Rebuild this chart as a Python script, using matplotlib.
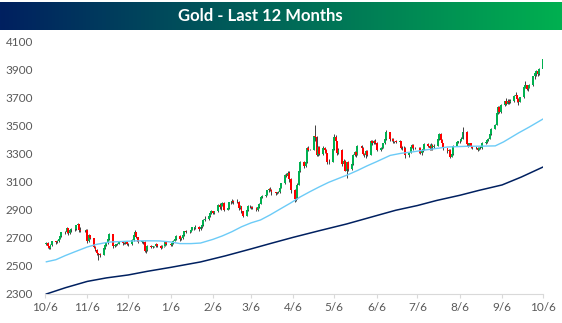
import numpy as np
import pandas as pd
import matplotlib
matplotlib.use("Agg")
import matplotlib.pyplot as plt
import matplotlib.dates as mdates
from matplotlib.colors import LinearSegmentedColormap

plt.rcParams["font.family"] = ["Lato", "DejaVu Sans"]

# daily bars, one row per week (Mon..Fri), 10/7/2024 .. 10/6/2025
first_open = 2660
closes = [
    2665, 2642, 2628, 2650, 2676,
    2668, 2680, 2694, 2712, 2742,
    2742, 2770, 2735, 2755, 2765,
    2762, 2792, 2800, 2760, 2750,
    2750, 2760, 2676, 2720, 2700,
    2636, 2615, 2590, 2583, 2578,
    2628, 2650, 2668, 2690, 2730,
    2645, 2650, 2655, 2660, 2670,
    2662, 2665, 2672, 2655, 2656,
    2685, 2718, 2743, 2705, 2672,
    2675, 2670, 2610, 2612, 2645,
    2635, 2640, 2640, 2658, 2645,
    2630, 2642, 2642, 2670, 2655,
    2650, 2665, 2680, 2690, 2715,
    2690, 2700, 2718, 2748, 2740,
    2745, 2760, 2775, 2770, 2780,
    2765, 2780, 2790, 2830, 2835,
    2855, 2875, 2892, 2880, 2890,
    2935, 2922, 2930, 2950, 2900,
    2915, 2955, 2955, 2965, 2955,
    2960, 2915, 2930, 2890, 2860,
    2900, 2930, 2925, 2920, 2915,
    2900, 2920, 2945, 2995, 3000,
    3010, 3040, 3050, 3045, 3025,
    3020, 3025, 3025, 3060, 3090,
    3150, 3145, 3165, 3120, 3040,
    2975, 2990, 3080, 3175, 3245,
    3215, 3240, 3345, 3330, 3330,
    3425, 3420, 3295, 3350, 3300,
    3345, 3330, 3305, 3240, 3245,
    3335, 3420, 3390, 3305, 3330,
    3230, 3250, 3180, 3240, 3190,
    3230, 3290, 3315, 3295, 3360,
    3345, 3300, 3290, 3320, 3295,
    3395, 3375, 3395, 3380, 3330,
    3345, 3345, 3375, 3405, 3455,
    3405, 3410, 3390, 3390, 3385,
    3390, 3345, 3345, 3345, 3290,
    3310, 3350, 3365, 3340, 3345,
    3345, 3305, 3325, 3335, 3370,
    3360, 3340, 3365, 3350, 3360,
    3410, 3445, 3400, 3375, 3340,
    3320, 3330, 3280, 3300, 3360,
    3385, 3390, 3395, 3410, 3460,
    3370, 3365, 3375, 3350, 3345,
    3345, 3330, 3345, 3340, 3380,
    3385, 3400, 3410, 3440, 3480,
    3510, 3590, 3635, 3600, 3650,
    3675, 3660, 3680, 3670, 3680,
    3715, 3720, 3690, 3675, 3705,
    3775, 3790, 3765, 3775, 3790,
    3855, 3875, 3890, 3870, 3910,
    3975,
]
highs = [
    2672, 2668, 2646, 2655, 2680,
    2682, 2686, 2698, 2716, 2745,
    2750, 2775, 2772, 2760, 2770,
    2770, 2795, 2810, 2802, 2775,
    2758, 2765, 2762, 2725, 2722,
    2702, 2640, 2620, 2595, 2590,
    2632, 2655, 2672, 2695, 2735,
    2732, 2655, 2660, 2665, 2680,
    2672, 2670, 2678, 2675, 2665,
    2690, 2722, 2755, 2745, 2708,
    2680, 2678, 2675, 2625, 2650,
    2648, 2645, 2644, 2662, 2660,
    2650, 2648, 2646, 2675, 2672,
    2662, 2672, 2685, 2695, 2720,
    2718, 2705, 2722, 2752, 2755,
    2750, 2765, 2780, 2780, 2790,
    2785, 2785, 2795, 2835, 2860,
    2865, 2880, 2900, 2895, 2895,
    2940, 2950, 2935, 2955, 2955,
    2920, 2960, 2965, 2975, 2970,
    2975, 2962, 2935, 2932, 2895,
    2905, 2935, 2935, 2930, 2930,
    2920, 2925, 2950, 3000, 3010,
    3015, 3045, 3060, 3065, 3050,
    3030, 3030, 3035, 3065, 3095,
    3155, 3165, 3175, 3180, 3125,
    3050, 3010, 3090, 3180, 3250,
    3250, 3245, 3350, 3360, 3335,
    3430, 3505, 3425, 3360, 3360,
    3355, 3350, 3335, 3310, 3265,
    3340, 3440, 3435, 3395, 3345,
    3335, 3265, 3255, 3245, 3250,
    3245, 3300, 3320, 3330, 3365,
    3365, 3350, 3310, 3325, 3325,
    3400, 3400, 3400, 3405, 3385,
    3350, 3355, 3380, 3410, 3470,
    3460, 3415, 3415, 3395, 3400,
    3400, 3395, 3355, 3360, 3348,
    3315, 3355, 3370, 3370, 3350,
    3350, 3350, 3330, 3340, 3375,
    3380, 3370, 3375, 3370, 3370,
    3415, 3450, 3450, 3405, 3380,
    3345, 3335, 3335, 3310, 3365,
    3390, 3395, 3400, 3420, 3495,
    3462, 3375, 3380, 3378, 3360,
    3355, 3350, 3352, 3355, 3385,
    3395, 3405, 3415, 3445, 3485,
    3515, 3600, 3645, 3640, 3660,
    3680, 3700, 3690, 3690, 3690,
    3720, 3740, 3725, 3700, 3710,
    3780, 3825, 3795, 3780, 3800,
    3860, 3880, 3900, 3900, 3915,
    3985,
]
lows = [
    2648, 2632, 2620, 2622, 2645,
    2660, 2662, 2674, 2690, 2708,
    2730, 2735, 2722, 2730, 2745,
    2750, 2758, 2785, 2745, 2740,
    2740, 2745, 2665, 2670, 2690,
    2630, 2605, 2580, 2545, 2565,
    2575, 2620, 2645, 2660, 2685,
    2630, 2635, 2645, 2650, 2655,
    2650, 2655, 2658, 2648, 2640,
    2652, 2680, 2712, 2700, 2665,
    2662, 2660, 2600, 2590, 2605,
    2628, 2630, 2636, 2635, 2638,
    2622, 2625, 2638, 2640, 2648,
    2640, 2645, 2660, 2675, 2685,
    2680, 2685, 2695, 2712, 2735,
    2735, 2740, 2755, 2760, 2765,
    2750, 2760, 2772, 2785, 2820,
    2825, 2850, 2870, 2870, 2872,
    2885, 2910, 2900, 2925, 2895,
    2898, 2910, 2945, 2950, 2940,
    2950, 2900, 2905, 2880, 2850,
    2855, 2890, 2915, 2905, 2905,
    2890, 2895, 2915, 2940, 2985,
    2995, 3005, 3030, 3035, 3010,
    3010, 3012, 3018, 3020, 3055,
    3085, 3135, 3140, 3100, 3020,
    2960, 2965, 2975, 3075, 3170,
    3200, 3210, 3235, 3320, 3325,
    3325, 3390, 3285, 3285, 3290,
    3290, 3310, 3295, 3230, 3225,
    3240, 3330, 3370, 3290, 3300,
    3215, 3220, 3175, 3125, 3180,
    3185, 3220, 3285, 3280, 3290,
    3335, 3290, 3280, 3270, 3285,
    3290, 3365, 3370, 3370, 3320,
    3320, 3335, 3340, 3370, 3400,
    3395, 3395, 3380, 3380, 3375,
    3350, 3335, 3330, 3335, 3270,
    3275, 3305, 3345, 3325, 3335,
    3310, 3300, 3295, 3315, 3330,
    3350, 3330, 3325, 3330, 3345,
    3355, 3400, 3390, 3365, 3330,
    3310, 3315, 3270, 3275, 3295,
    3355, 3375, 3380, 3390, 3405,
    3360, 3350, 3355, 3340, 3335,
    3335, 3320, 3325, 3335, 3335,
    3370, 3375, 3395, 3405, 3435,
    3475, 3505, 3585, 3590, 3595,
    3640, 3650, 3655, 3660, 3665,
    3675, 3705, 3670, 3650, 3670,
    3700, 3770, 3755, 3750, 3770,
    3785, 3835, 3860, 3860, 3865,
    3905,
]

# moving averages
ma50_dates = ["2024-10-07", "2024-10-14", "2024-10-21", "2024-10-28", "2024-11-06",
              "2024-11-13", "2024-11-22", "2024-12-01", "2024-12-10", "2024-12-20",
              "2024-12-29", "2025-01-06", "2025-01-13", "2025-01-21", "2025-01-28",
              "2025-02-06", "2025-02-13", "2025-02-20", "2025-02-27", "2025-03-06",
              "2025-03-13", "2025-03-20", "2025-03-27", "2025-04-04", "2025-04-11",
              "2025-04-18", "2025-04-25", "2025-05-02", "2025-05-09", "2025-05-16",
              "2025-05-23", "2025-05-30", "2025-06-06", "2025-06-16", "2025-06-24",
              "2025-07-03", "2025-07-14", "2025-07-28", "2025-08-11", "2025-08-22",
              "2025-09-01", "2025-09-07", "2025-09-12", "2025-09-18", "2025-09-26",
              "2025-10-06"]
ma50 = [2530, 2545, 2575, 2602, 2636,
        2655, 2671, 2675, 2679, 2680,
        2679, 2672, 2660, 2660, 2664,
        2690, 2715, 2745, 2780, 2808,
        2829, 2865, 2905, 2950, 2993,
        3030, 3065, 3098, 3125, 3152,
        3182, 3215, 3245, 3290, 3305,
        3316, 3332, 3350, 3355, 3356,
        3358, 3386, 3415, 3450, 3493,
        3550]

ma200_dates = ["2024-10-07", "2024-10-21", "2024-11-06", "2024-11-20", "2024-12-06",
               "2024-12-20", "2025-01-06", "2025-01-28", "2025-02-15", "2025-03-06",
               "2025-03-20", "2025-04-06", "2025-04-25", "2025-05-15", "2025-06-06",
               "2025-06-20", "2025-07-06", "2025-07-20", "2025-08-06", "2025-08-20",
               "2025-09-06", "2025-09-20", "2025-10-06"]
ma200 = [2300, 2345, 2390, 2415, 2436,
         2462, 2490, 2529, 2572, 2622,
         2660, 2705, 2752, 2800, 2860,
         2898, 2932, 2968, 3005, 3040,
         3079, 3135, 3207]

tick_dates = pd.date_range("2024-10-01", "2025-10-01", freq="MS") + pd.Timedelta(days=5)
tick_labels = [f"{d.month}/{d.day}" for d in tick_dates]

GREEN = "#00B050"
RED = "#FF0000"
NAVY = "#002060"
LIGHT_BLUE = "#6CCBF7"

dates = pd.bdate_range("2024-10-07", "2025-10-06")
x = mdates.date2num(dates)
c = np.array(closes, dtype=float)
o = np.concatenate([[first_open], c[:-1]])
h = np.array(highs, dtype=float)
l = np.array(lows, dtype=float)

W, H = 562, 323
fig = plt.figure(figsize=(W / 100, H / 100), dpi=100)

# title banner with gradient
bax = fig.add_axes([0, (H - 30) / H, 1, 28 / H])
cmap = LinearSegmentedColormap.from_list("banner", [NAVY, GREEN])
bax.imshow(np.linspace(0, 1, 256)[None, :], aspect="auto", cmap=cmap, extent=[0, 1, 0, 1])
bax.set_axis_off()
bax.text(0.463, 0.5, "Gold - Last 12 Months", color="white", fontsize=12,
         fontweight="bold", ha="center", va="center", transform=bax.transAxes)

ax = fig.add_axes([45 / W, 29 / H, 498 / W, (294 - 42) / H])

# candles
up = c >= o
ax.vlines(x, l, h, color="#404040", lw=0.7, zorder=2)
ax.bar(x[up], (c - o)[up], bottom=o[up], width=1.4, color=GREEN, lw=0, zorder=3)
ax.bar(x[~up], (o - c)[~up], bottom=c[~up], width=1.4, color=RED, lw=0, zorder=3)

ax.plot(mdates.date2num(pd.to_datetime(ma50_dates)), ma50, color=LIGHT_BLUE, lw=1.0, zorder=4)
ax.plot(mdates.date2num(pd.to_datetime(ma200_dates)), ma200, color=NAVY, lw=1.1, zorder=4)

ax.set_ylim(2300, 4100)
ax.set_yticks(range(2300, 4101, 200))
ax.set_xlim(mdates.date2num(pd.Timestamp("2024-10-06")), mdates.date2num(pd.Timestamp("2025-10-06")))
ax.set_xticks(mdates.date2num(tick_dates))
ax.set_xticklabels(tick_labels)

for side in ["left", "right", "top"]:
    ax.spines[side].set_visible(False)
ax.spines["bottom"].set_color("#D9D9D9")
ax.tick_params(axis="y", length=0, pad=8.5, labelsize=8.5, labelcolor="#595959")
ax.tick_params(axis="x", length=3, color="#D9D9D9", pad=2.5, labelsize=8.5, labelcolor="#595959")

fig.savefig("out.png", dpi=100)
